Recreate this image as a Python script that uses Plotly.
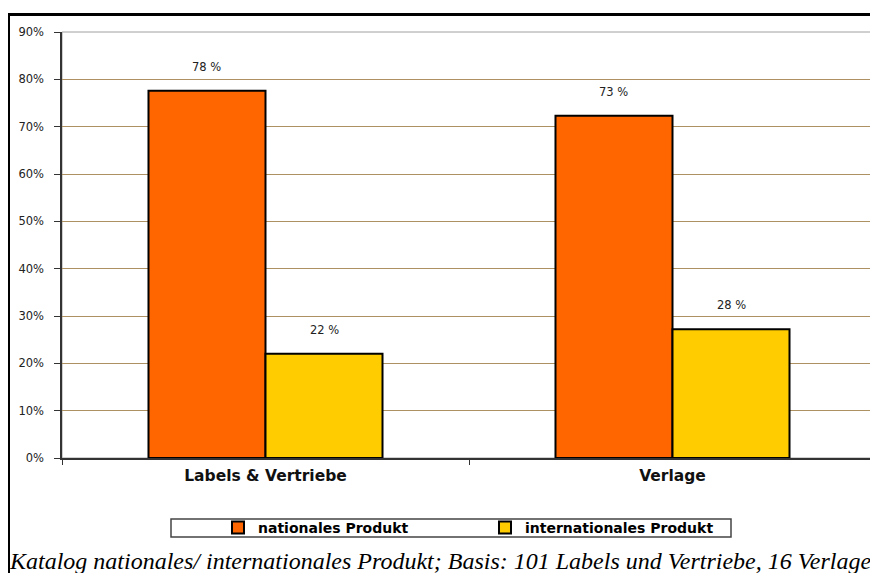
"""
Katalog nationales / internationales Produkt - grouped bar chart.
"""

import plotly.graph_objects as go

CATEGORIES = ["Labels & Vertriebe", "Verlage"]
NATIONAL = [77.6, 72.3]
INTERNATIONAL = [22.0, 27.2]
NATIONAL_LABELS = ["78 %", "73 %"]
INTERNATIONAL_LABELS = ["22 %", "28 %"]
Y_TICKS = [0, 10, 20, 30, 40, 50, 60, 70, 80, 90]
Y_TICK_LABELS = ["0%", "10%", "20%", "30%", "40%", "50%", "60%", "70%", "80%", "90%"]

CAPTION = "Katalog nationales/ internationales Produkt; Basis: 101 Labels und Vertriebe, 16 Verlage"

ORANGE = "#ff6600"
YELLOW = "#ffcc00"
GRID = "#ad9162"
SANS = "DejaVu Sans, Arial, sans-serif"
SERIF = "Liberation Serif, Times New Roman, serif"

# the page body has an 8px margin, so the figure is a bit smaller than the window
W, H = 870, 565
# plot area in figure pixels
L, R, T, B = 54, 868, 24, 450
BARGAP = 0.425


def px_x(p):
    return (p - L) / (R - L)


def px_y(p):
    return (B - p) / (B - T)


fig = go.Figure()
fig.add_trace(go.Bar(
    x=CATEGORIES, y=NATIONAL, name="nationales Produkt",
    marker=dict(color=ORANGE, line=dict(color="#000000", width=2)),
))
fig.add_trace(go.Bar(
    x=CATEGORIES, y=INTERNATIONAL, name="internationales Produkt",
    marker=dict(color=YELLOW, line=dict(color="#000000", width=2)),
))

# value labels above the bars
bar_px = (R - L) / 2 * (1 - BARGAP) / 2
for vals, labels, shift in [(NATIONAL, NATIONAL_LABELS, -bar_px / 2),
                            (INTERNATIONAL, INTERNATIONAL_LABELS, bar_px / 2)]:
    for cat, v, lab in zip(CATEGORIES, vals, labels):
        fig.add_annotation(
            x=cat, y=v, xref="x", yref="y", text=lab, showarrow=False,
            xshift=shift, yshift=24, font=dict(family=SANS, size=11.5, color="#222222"),
        )

# outer chart border (cut off at right/bottom in the original)
fig.add_shape(type="rect", xref="paper", yref="paper",
              x0=px_x(0.5), x1=px_x(900), y0=px_y(6.5), y1=px_y(620),
              line=dict(color="#000000", width=3), layer="below")
# plot area frame
fig.add_shape(type="rect", xref="paper", yref="paper",
              x0=0, x1=1, y0=0, y1=1,
              line=dict(color="#a0a0a0", width=1), layer="below")
# legend frame
fig.add_shape(type="rect", xref="paper", yref="paper",
              x0=px_x(163), x1=px_x(723), y0=px_y(511), y1=px_y(529),
              line=dict(color="#444444", width=1.5))

fig.add_annotation(
    x=px_x(-1), y=px_y(553), xref="paper", yref="paper", xanchor="left", yanchor="middle",
    text="<i>" + CAPTION + "</i>", showarrow=False,
    font=dict(family=SERIF, size=24, color="#000000"),
)

fig.update_layout(
    width=W, height=H,
    margin=dict(l=L, r=W - R, t=T, b=H - B),
    paper_bgcolor="white", plot_bgcolor="white",
    barmode="group", bargap=BARGAP, bargroupgap=0,
    showlegend=True,
    legend=dict(
        orientation="h", x=px_x(210), y=px_y(520), xanchor="left", yanchor="middle",
        entrywidth=222, entrywidthmode="pixels",
        font=dict(family=SANS, size=14, color="#000000", weight="bold"),
        itemwidth=30, bgcolor="rgba(0,0,0,0)", borderwidth=0,
    ),
    font=dict(family=SANS, size=11.5, color="#222222"),
)

fig.update_xaxes(
    showline=True, linecolor="#333333", linewidth=1.5,
    ticks="outside", ticklen=5, tickcolor="#333333", tickson="boundaries",
    ticklabelstandoff=3,
    tickfont=dict(family=SANS, size=15.5, color="#111111", weight="bold"),
    showgrid=False,
)
fig.update_yaxes(
    range=[0, 90], tickvals=Y_TICKS, ticktext=Y_TICK_LABELS,
    showline=True, linecolor="#333333", linewidth=1.5,
    ticks="outside", ticklen=6, tickcolor="#333333",
    ticklabelstandoff=8,
    tickfont=dict(family=SANS, size=11.5, color="#222222"),
    showgrid=True, gridcolor=GRID, gridwidth=1, zeroline=False,
)

fig.write_html("out.html")
